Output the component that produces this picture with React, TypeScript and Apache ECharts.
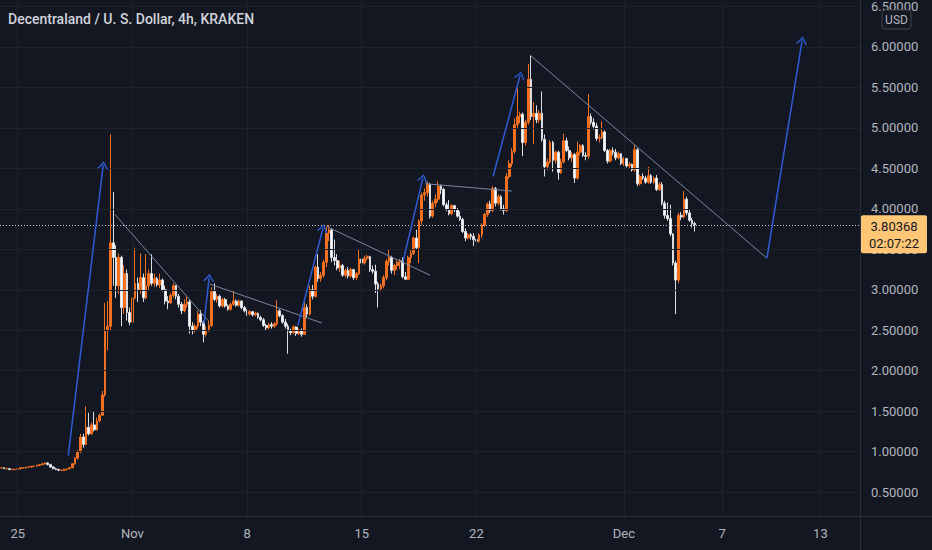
import React, { useEffect, useRef } from "react";
import * as echarts from "echarts";

const TITLE = "Decentraland / U. S. Dollar, 4h, KRAKEN";
const START_UTC = Date.UTC(2021, 9, 24, 0, 0); // first 4h slot: 24 Oct 2021 00:00
const SLOT_MS = 4 * 3600 * 1000;
const SLOT_COUNT = 315;

const xTickDates: [number, number, number][] = [
  [2021, 10, 25], [2021, 11, 1], [2021, 11, 8], [2021, 11, 15],
  [2021, 11, 22], [2021, 12, 1], [2021, 12, 7], [2021, 12, 13],
];
const xTickLabels = ["25", "Nov", "8", "15", "22", "Dec", "7", "13"];
const yTickValues = [0.5, 1, 1.5, 2, 2.5, 3, 3.5, 4, 4.5, 5, 5.5, 6, 6.5];
const Y_MIN = 0.205;
const Y_MAX = 6.552;
const LAST_PRICE = 3.80368;
const COUNTDOWN = "02:07:22";

// [open, high, low, close] per 4h candle
const ohlc: number[][] = [
  [0.80,0.81,0.79,0.80],[0.80,0.81,0.79,0.79],[0.79,0.80,0.78,0.79],[0.79,0.79,0.77,0.78],
  [0.78,0.79,0.77,0.78],[0.78,0.79,0.77,0.78],[0.78,0.79,0.78,0.79],[0.79,0.80,0.78,0.80],
  [0.80,0.81,0.79,0.80],[0.80,0.81,0.79,0.81],[0.81,0.82,0.80,0.81],[0.81,0.82,0.80,0.82],
  [0.82,0.83,0.81,0.82],[0.82,0.84,0.81,0.83],[0.83,0.85,0.82,0.84],[0.84,0.86,0.83,0.85],
  [0.85,0.87,0.84,0.86],[0.86,0.87,0.83,0.84],[0.84,0.85,0.80,0.81],[0.81,0.82,0.78,0.79],
  [0.79,0.80,0.77,0.78],[0.78,0.79,0.76,0.77],[0.77,0.78,0.76,0.77],[0.77,0.79,0.76,0.78],
  [0.78,0.79,0.77,0.79],[0.79,0.81,0.78,0.80],[0.80,0.86,0.80,0.85],[0.85,0.93,0.84,0.92],
  [0.92,1.02,0.90,1.00],[1.00,1.22,0.98,1.18],[1.18,1.22,1.05,1.09],[1.09,1.56,1.08,1.30],
  [1.30,1.48,1.20,1.22],[1.22,1.36,1.21,1.33],[1.33,1.50,1.25,1.27],[1.27,1.42,1.26,1.38],
  [1.38,1.47,1.36,1.45],[1.45,1.75,1.44,1.70],[1.70,2.84,1.68,2.50],[2.50,2.86,2.25,2.55],
  [2.55,4.92,2.50,3.58],[3.58,4.21,3.05,3.40],[3.40,3.55,2.90,3.05],[3.05,3.45,2.95,3.40],
  [3.40,3.42,2.55,2.78],[2.78,3.30,2.70,3.20],[3.20,3.25,2.62,2.72],[2.72,2.78,2.56,2.60],
  [2.60,3.05,2.58,2.90],[2.90,3.52,2.88,3.08],[3.08,3.15,2.85,3.00],[3.00,3.45,2.95,3.15],
  [3.15,3.20,2.85,2.90],[2.90,3.44,2.88,3.05],[3.05,3.25,3.00,3.20],[3.20,3.44,3.05,3.08],
  [3.08,3.20,3.04,3.14],[3.14,3.16,3.04,3.06],[3.06,3.20,3.02,3.12],[3.12,3.14,2.98,3.00],
  [3.00,3.05,2.82,2.86],[2.86,2.92,2.76,2.84],[2.84,2.96,2.82,2.93],[2.93,3.08,2.90,3.05],
  [3.05,3.06,2.88,2.92],[2.92,2.95,2.78,2.82],[2.82,2.85,2.70,2.74],[2.74,2.88,2.72,2.82],
  [2.82,2.92,2.78,2.85],[2.85,2.88,2.46,2.55],[2.55,2.60,2.45,2.50],[2.50,2.58,2.47,2.55],
  [2.55,2.74,2.52,2.70],[2.70,2.75,2.55,2.60],[2.60,2.62,2.35,2.45],[2.45,2.55,2.42,2.50],
  [2.50,2.62,2.48,2.56],[2.56,3.03,2.54,2.98],[2.98,3.08,2.86,2.88],[2.88,2.95,2.84,2.92],
  [2.92,2.94,2.78,2.80],[2.80,2.90,2.78,2.88],[2.88,2.90,2.78,2.80],[2.80,2.82,2.74,2.76],
  [2.76,2.84,2.74,2.82],[2.82,2.99,2.80,2.86],[2.86,2.88,2.79,2.81],[2.81,2.88,2.79,2.86],
  [2.86,2.87,2.76,2.78],[2.78,2.80,2.72,2.74],[2.74,2.76,2.68,2.70],[2.70,2.75,2.68,2.73],
  [2.73,2.74,2.67,2.69],[2.69,2.73,2.67,2.71],[2.71,2.72,2.64,2.66],[2.66,2.68,2.61,2.63],
  [2.63,2.65,2.54,2.56],[2.56,2.58,2.50,2.53],[2.53,2.59,2.51,2.57],[2.57,2.60,2.52,2.55],
  [2.55,2.60,2.53,2.58],[2.58,2.87,2.56,2.74],[2.74,2.76,2.66,2.68],[2.68,2.70,2.58,2.60],
  [2.60,2.64,2.52,2.55],[2.55,2.58,2.21,2.49],[2.49,2.52,2.44,2.47],[2.47,2.56,2.45,2.54],
  [2.54,2.55,2.43,2.46],[2.46,2.52,2.44,2.50],[2.50,2.52,2.42,2.45],[2.45,2.86,2.44,2.78],
  [2.78,2.82,2.66,2.70],[2.70,3.05,2.68,3.00],[3.00,3.06,2.88,2.92],[2.92,3.30,2.90,3.28],
  [3.28,3.44,3.10,3.14],[3.14,3.22,3.10,3.18],[3.18,3.37,3.15,3.34],[3.34,3.78,3.28,3.70],
  [3.70,3.80,3.60,3.74],[3.74,3.76,3.34,3.40],[3.40,3.62,3.30,3.36],[3.36,3.44,3.24,3.27],
  [3.27,3.36,3.22,3.30],[3.30,3.32,3.16,3.18],[3.18,3.26,3.15,3.24],[3.24,3.28,3.14,3.17],
  [3.17,3.27,3.15,3.25],[3.25,3.26,3.12,3.15],[3.15,3.22,3.12,3.20],[3.20,3.50,3.18,3.38],
  [3.38,3.42,3.30,3.33],[3.33,3.42,3.31,3.39],[3.39,3.43,3.36,3.41],[3.41,3.42,3.22,3.25],
  [3.25,3.30,3.20,3.23],[3.23,3.31,2.96,3.07],[3.07,3.10,2.78,3.01],[3.01,3.08,2.98,3.05],
  [3.05,3.18,3.02,3.15],[3.15,3.38,3.12,3.35],[3.35,3.50,3.30,3.40],[3.40,3.42,3.20,3.24],
  [3.24,3.32,3.18,3.30],[3.30,3.36,3.25,3.34],[3.34,3.38,3.26,3.36],[3.36,3.40,3.14,3.16],
  [3.16,3.22,3.12,3.13],[3.13,3.42,3.12,3.40],[3.40,3.50,3.33,3.45],[3.45,3.66,3.43,3.64],
  [3.64,3.74,3.50,3.52],[3.52,3.87,3.33,3.85],[3.85,4.20,3.80,4.17],[4.17,4.25,4.10,4.20],
  [4.20,4.34,4.15,4.30],[4.30,4.32,3.88,3.91],[3.91,4.10,3.89,4.07],[4.07,4.18,4.02,4.12],
  [4.12,4.34,4.08,4.28],[4.28,4.30,4.18,4.24],[4.24,4.26,4.03,4.05],[4.05,4.08,3.97,3.99],
  [3.99,4.11,3.92,3.94],[3.94,4.06,3.92,4.04],[4.04,4.05,3.96,3.99],[3.99,4.01,3.89,3.91],
  [3.91,3.97,3.85,3.87],[3.87,3.89,3.70,3.72],[3.72,3.76,3.60,3.64],[3.64,3.70,3.62,3.68],
  [3.68,3.70,3.62,3.66],[3.66,3.70,3.54,3.62],[3.62,3.66,3.56,3.60],[3.60,3.70,3.58,3.68],
  [3.68,3.82,3.64,3.80],[3.80,3.95,3.78,3.93],[3.93,4.08,3.90,4.06],[4.06,4.10,3.95,3.98],
  [3.98,4.28,3.96,4.25],[4.25,4.27,4.03,4.07],[4.07,4.18,4.04,4.15],[4.15,4.17,3.98,4.00],
  [4.00,4.05,3.93,3.98],[3.98,4.44,3.96,4.40],[4.40,4.60,4.37,4.56],[4.56,4.75,4.52,4.71],
  [4.71,5.12,4.68,5.04],[5.04,5.49,5.00,5.14],[5.14,5.20,5.06,5.17],[5.17,5.19,4.65,4.82],
  [4.82,5.10,4.78,5.07],[5.07,5.79,5.04,5.60],[5.60,5.90,5.10,5.14],[5.14,5.32,4.80,5.18],
  [5.18,5.28,5.06,5.10],[5.10,5.22,5.06,5.18],[5.18,5.45,4.83,4.86],[4.86,4.92,4.40,4.52],
  [4.52,4.62,4.48,4.58],[4.58,4.85,4.56,4.82],[4.82,4.84,4.46,4.60],[4.60,4.72,4.56,4.70],
  [4.70,4.72,4.36,4.45],[4.45,4.62,4.43,4.58],[4.58,4.93,4.56,4.84],[4.84,4.88,4.70,4.72],
  [4.72,4.77,4.60,4.63],[4.63,4.70,4.58,4.67],[4.67,4.69,4.32,4.38],[4.38,4.83,4.36,4.70],
  [4.70,4.80,4.66,4.78],[4.78,4.80,4.64,4.66],[4.66,4.70,4.60,4.65],[4.65,5.42,4.62,5.14],
  [5.14,5.18,5.04,5.07],[5.07,5.12,4.98,5.02],[5.02,5.06,4.84,4.87],[4.87,4.92,4.82,4.88],
  [4.88,5.08,4.86,4.95],[4.95,4.97,4.70,4.72],[4.72,4.74,4.56,4.59],[4.59,4.74,4.57,4.72],
  [4.72,4.76,4.66,4.70],[4.70,4.74,4.60,4.63],[4.63,4.71,4.61,4.68],[4.68,4.69,4.54,4.56],
  [4.56,4.64,4.53,4.62],[4.62,4.63,4.51,4.53],[4.53,4.58,4.50,4.55],[4.55,4.56,4.46,4.48],
  [4.48,4.79,4.46,4.73],[4.73,4.75,4.28,4.31],[4.31,4.42,4.29,4.40],[4.40,4.44,4.36,4.38],
  [4.38,4.41,4.31,4.33],[4.33,4.52,4.31,4.41],[4.41,4.43,4.31,4.33],[4.33,4.40,4.31,4.38],
  [4.38,4.42,4.22,4.24],[4.24,4.33,4.22,4.30],[4.30,4.33,4.04,4.07],[4.07,4.10,3.88,3.92],
  [3.92,4.08,3.85,3.88],[3.88,4.05,3.66,3.69],[3.69,3.70,3.30,3.33],[3.33,3.36,2.70,3.12],
  [3.12,3.95,3.08,3.92],[3.92,3.96,3.86,3.90],[3.90,4.22,3.88,4.12],[4.12,4.15,3.92,3.95],
  [3.95,3.99,3.84,3.86],[3.86,3.89,3.77,3.82],[3.82,3.84,3.72,3.80368],
];

// annotation segments in [slot, price]
const trendLines: number[][][] = [
  [[41.6, 3.93], [75.7, 2.62]],
  [[76.4, 3.07], [117.4, 2.59]],
  [[119.3, 3.78], [157.0, 3.18]],
  [[155.2, 4.31], [187.0, 4.22]],
  [[193.6, 5.90], [280.4, 3.39]],
];
const arrows: number[][][] = [
  [[24.5, 0.95], [37.3, 4.54]],
  [[74.2, 2.58], [76.1, 3.15]],
  [[108.6, 2.56], [117.8, 3.76]],
  [[147.1, 3.35], [154.4, 4.38]],
  [[180.1, 4.40], [190.0, 5.65]],
  [[280.4, 3.39], [293.3, 6.08]],
];

const BG = "#131722";
const GRID = "#1e222d";
const BORDER = "#2a2e39";
const TEXT = "#b2b5be";
const UP = "#f2701f";
const DOWN = "#ffffff";
const FONT = "Roboto, 'Liberation Sans', sans-serif";
const CHEVRON = "path://M0,8 L5.5,0 L11,8 L9.6,8.6 L5.5,2.4 L1.4,8.6 Z";

function pad(n: number) {
  return n < 10 ? "0" + n : "" + n;
}

export default function App() {
  const ref = useRef<HTMLDivElement>(null);

  useEffect(() => {
    document.body.style.margin = "0";
    document.body.style.background = BG;
    if (!ref.current) return;
    const chart = echarts.init(ref.current, undefined, { renderer: "svg" });

    const categories = Array.from({ length: SLOT_COUNT }, (_, i) => {
      const d = new Date(START_UTC + i * SLOT_MS);
      return `${d.getUTCFullYear()}-${pad(d.getUTCMonth() + 1)}-${pad(d.getUTCDate())} ${pad(d.getUTCHours())}:00`;
    });
    const tickSlots = xTickDates.map(([y, m, d]) => (Date.UTC(y, m - 1, d) - START_UTC) / SLOT_MS);
    const labelBySlot: Record<number, string> = {};
    tickSlots.forEach((s, i) => (labelBySlot[s] = xTickLabels[i]));

    const candleData = ohlc.map(([o, h, l, c]) => [o, c, l, h]);

    const option: any = {
      animation: false,
      backgroundColor: BG,
      grid: { left: 0, right: 72, top: 0, bottom: 34, containLabel: false },
      xAxis: [
        {
          type: "category",
          data: categories,
          boundaryGap: true,
          axisLine: { show: false },
          axisTick: { show: false },
          splitLine: { show: false },
          axisLabel: {
            interval: (i: number) => labelBySlot[i] !== undefined,
            formatter: (_v: string, i: number) => labelBySlot[i] ?? "",
            color: TEXT,
            fontSize: 13,
            fontFamily: FONT,
            margin: 11,
          },
        },
        { type: "value", min: -0.5, max: SLOT_COUNT - 0.5, show: false },
      ],
      yAxis: {
        type: "value",
        position: "right",
        min: Y_MIN,
        max: Y_MAX,
        axisLine: { show: false },
        axisTick: { show: false, customValues: yTickValues },
        splitLine: { show: false },
        axisLabel: {
          customValues: yTickValues,
          formatter: (v: number) => v.toFixed(5),
          color: TEXT,
          fontSize: 13,
          fontFamily: FONT,
          margin: 11,
        },
      },
      series: [
        {
          type: "line",
          xAxisIndex: 1,
          data: [[0, Y_MIN]],
          showSymbol: false,
          lineStyle: { opacity: 0 },
          silent: true,
          z: 1,
          markLine: {
            silent: true,
            symbol: ["none", "none"],
            label: { show: false },
            lineStyle: { color: GRID, width: 1, type: "solid" },
            data: [
              ...yTickValues.map((v) => ({ yAxis: v })),
              ...tickSlots.map((s) => ({ xAxis: s })),
            ],
          },
        },
        {
          type: "candlestick",
          xAxisIndex: 0,
          data: candleData,
          barWidth: "80%",
          z: 3,
          itemStyle: {
            color: UP,
            color0: DOWN,
            borderColor: UP,
            borderColor0: "#dcdde0",
            borderWidth: 1,
          },
          markLine: {
            silent: true,
            symbol: ["none", "none"],
            label: { show: false },
            lineStyle: { color: "#c9cbd1", width: 1, type: [1, 2] },
            data: [{ yAxis: LAST_PRICE }],
          },
        },
        {
          type: "line",
          xAxisIndex: 1,
          data: [[0, Y_MIN]],
          showSymbol: false,
          lineStyle: { opacity: 0 },
          silent: true,
          z: 4,
          markLine: {
            silent: true,
            symbol: ["none", "none"],
            label: { show: false },
            lineStyle: { color: "#7b87a0", width: 1, type: "solid" },
            data: trendLines.map(([a, b]) => [{ coord: a }, { coord: b }]),
          },
        },
        {
          type: "line",
          xAxisIndex: 1,
          data: [[0, Y_MIN]],
          showSymbol: false,
          lineStyle: { opacity: 0 },
          silent: true,
          z: 5,
          markLine: {
            silent: true,
            symbol: ["none", CHEVRON],
            symbolSize: [11, 8],
            label: { show: false },
            lineStyle: { color: "#2f5bd6", width: 1.5, type: "solid" },
            data: arrows.map(([a, b]) => [{ coord: a }, { coord: b }]),
          },
        },
      ],
    };
    chart.setOption(option);

    const py = chart.convertToPixel({ yAxisIndex: 0 } as any, LAST_PRICE) as number;
    chart.setOption({
      graphic: [
        {
          type: "text",
          left: 8,
          top: 12,
          z: 100,
          style: { text: TITLE, fill: "#d1d4dc", font: `500 14px ${FONT}` },
        },
        { type: "line", z: 100, shape: { x1: 860.5, y1: 0, x2: 860.5, y2: 550 }, style: { stroke: BORDER, lineWidth: 1 } },
        { type: "line", z: 100, shape: { x1: 0, y1: 516.5, x2: 932, y2: 516.5 }, style: { stroke: BORDER, lineWidth: 1 } },
        {
          type: "rect",
          z: 100,
          shape: { x: 882, y: 10, width: 29, height: 19, r: 3 },
          style: { fill: BG, stroke: "#434651", lineWidth: 1 },
        },
        {
          type: "text",
          z: 101,
          x: 896.5,
          y: 19.5,
          style: { text: "USD", fill: TEXT, font: `12px ${FONT}`, align: "center", verticalAlign: "middle" },
        },
        {
          type: "rect",
          z: 100,
          shape: { x: 861, y: py - 9.5, width: 66, height: 38, r: 2 },
          style: { fill: "#ffc675" },
        },
        {
          type: "text",
          z: 101,
          x: 894,
          y: py + 1.5,
          style: { text: LAST_PRICE.toFixed(5), fill: BG, font: `13px ${FONT}`, align: "center", verticalAlign: "middle" },
        },
        {
          type: "text",
          z: 101,
          x: 894,
          y: py + 18.5,
          style: { text: COUNTDOWN, fill: BG, font: `13px ${FONT}`, align: "center", verticalAlign: "middle" },
        },
      ],
    });

    return () => chart.dispose();
  }, []);

  return <div ref={ref} style={{ position: "fixed", left: 0, top: 0, width: 932, height: 550 }} />;
}
